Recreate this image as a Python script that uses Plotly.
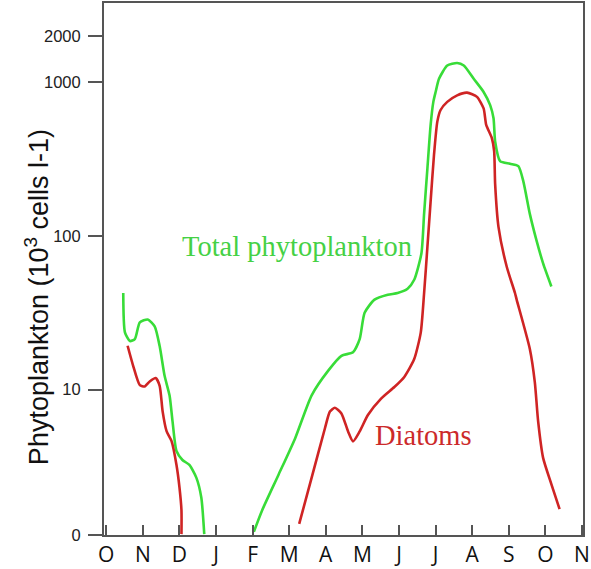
import plotly.graph_objects as go

# Month axis: 0 = O (Oct), 1 = N, ... 13 = N
month_labels = ["O", "N", "D", "J", "F", "M", "A", "M", "J", "J", "A", "S", "O", "N"]

# Total phytoplankton, autumn segment
total_a_x = [0.466, 0.512, 0.648, 0.783, 0.919, 1.136, 1.325, 1.461, 1.596, 1.732, 1.813, 1.921, 2.084, 2.274, 2.463, 2.599, 2.680]
total_a_y = [42.5, 23.6, 20.7, 21.3, 27.4, 28.6, 25.8, 19.2, 12.3, 9.15, 6.22, 3.99, 3.49, 3.24, 2.68, 1.99, 1.15]

# Total phytoplankton, spring-autumn segment
total_b_x = [4.035, 4.26, 4.713, 5.165, 5.615, 6.068, 6.428, 6.745, 6.927, 7.062, 7.333, 7.694, 7.965, 8.236, 8.417,
             8.615, 8.688, 8.778, 8.867, 8.94, 9.003, 9.095, 9.32, 9.591, 9.772, 10.043, 10.314, 10.493, 10.585,
             10.629, 10.764, 11.035, 11.263, 11.398, 11.577, 11.759, 11.94, 12.165]
total_b_y = [1.19, 1.64, 2.81, 4.84, 9.19, 13.3, 16.6, 17.5, 21.3, 31.6, 38.5, 41.4, 42.5, 45.3, 51.8,
             77.1, 139.6, 275, 528, 743, 862, 1050, 1280, 1330, 1280, 1050, 862, 708, 581,
             411, 306, 294, 284, 227, 139, 93.5, 66.2, 46.9]

# Diatoms, autumn segment
diatom_a_x = [0.585, 0.737, 0.919, 1.054, 1.19, 1.352, 1.461, 1.542, 1.65, 1.786, 1.921, 2.003, 2.057, 2.057]
diatom_a_y = [19.3, 14.3, 10.7, 10.5, 11.3, 11.9, 10.6, 7.22, 5.37, 4.63, 3.24, 2.31, 1.64, 1.15]

# Diatoms, spring-autumn segment
diatom_b_x = [5.274, 5.615, 5.978, 6.114, 6.249, 6.428, 6.61, 6.745, 6.927, 7.152, 7.512, 7.875, 8.146, 8.417,
              8.596, 8.688, 8.778, 8.867, 8.959, 9.049, 9.138, 9.32, 9.591, 9.862, 10.133, 10.314, 10.385,
              10.539, 10.602, 10.629, 10.721, 10.946, 11.171, 11.217, 11.577, 11.713, 11.805, 11.94, 12.165, 12.39]
diatom_b_y = [1.34, 2.68, 5.61, 7.2, 7.63, 7.01, 5.35, 4.61, 5.35, 6.84, 8.75, 10.4, 12.1, 15.8,
              23.5, 42.5, 84.7, 169, 338, 553, 658, 743, 820, 853, 801, 674, 527,
              432, 355, 217, 114, 63, 42.5, 38.5, 18.4, 11.2, 6.19, 3.6, 2.43, 1.67]

y_tick_vals = [10 ** 0.056, 10, 100, 1000, 2000]
y_tick_text = ["0", "10", "100", "1000", "2000"]

green = "#38dc38"
red = "#cf2424"

fig = go.Figure()
for xs, ys, col in [(total_a_x, total_a_y, green), (total_b_x, total_b_y, green),
                    (diatom_a_x, diatom_a_y, red), (diatom_b_x, diatom_b_y, red)]:
    fig.add_trace(go.Scatter(x=xs, y=ys, mode="lines",
                             line=dict(color=col, width=2.6, shape="spline", smoothing=0.6),
                             showlegend=False, hoverinfo="skip"))

fig.add_annotation(x=2.03, y=1.932, xref="x", yref="y", text="Total phytoplankton",
                   showarrow=False, xanchor="left", yanchor="middle",
                   font=dict(family="Liberation Serif", size=28.5, color="#45d145"))
fig.add_annotation(x=7.3, y=0.704, xref="x", yref="y", text="Diatoms",
                   showarrow=False, xanchor="left", yanchor="middle",
                   font=dict(family="Liberation Serif", size=28.5, color="#cc2a2a"))

# y-axis title as a rotated annotation placed close to the tick labels
fig.add_annotation(x=-0.141, y=0.448, xref="paper", yref="paper",
                   text="Phytoplankton (10<sup>3</sup> cells l-1)", textangle=-90,
                   showarrow=False, xanchor="center", yanchor="middle",
                   font=dict(family="Arial, Liberation Sans", size=27, color="#111"))

fig.update_layout(
    width=591, height=569,
    margin=dict(l=104, r=4, t=1, b=31),
    plot_bgcolor="white", paper_bgcolor="white",
    xaxis=dict(range=[-0.06, 13.03], tickmode="array", tickvals=list(range(14)), ticktext=month_labels,
               ticks="inside", ticklen=10, tickwidth=2, tickcolor="#555",
               showline=True, linecolor="#555", linewidth=2, mirror=True,
               showgrid=False, zeroline=False, ticklabeloverflow="allow",
               tickfont=dict(family="Open Sans", size=21, color="#111")),
    yaxis=dict(type="log", range=[0.055, 3.514], tickmode="array", tickvals=y_tick_vals, ticktext=y_tick_text,
               ticks="outside", ticklen=14, tickwidth=1.5, tickcolor="#555",
               showline=True, linecolor="#555", linewidth=2, mirror=True,
               showgrid=False, zeroline=False, ticklabelstandoff=4,
               tickfont=dict(family="Arial, Liberation Sans", size=16.5, color="#222")),
)

fig.write_html("out.html")
